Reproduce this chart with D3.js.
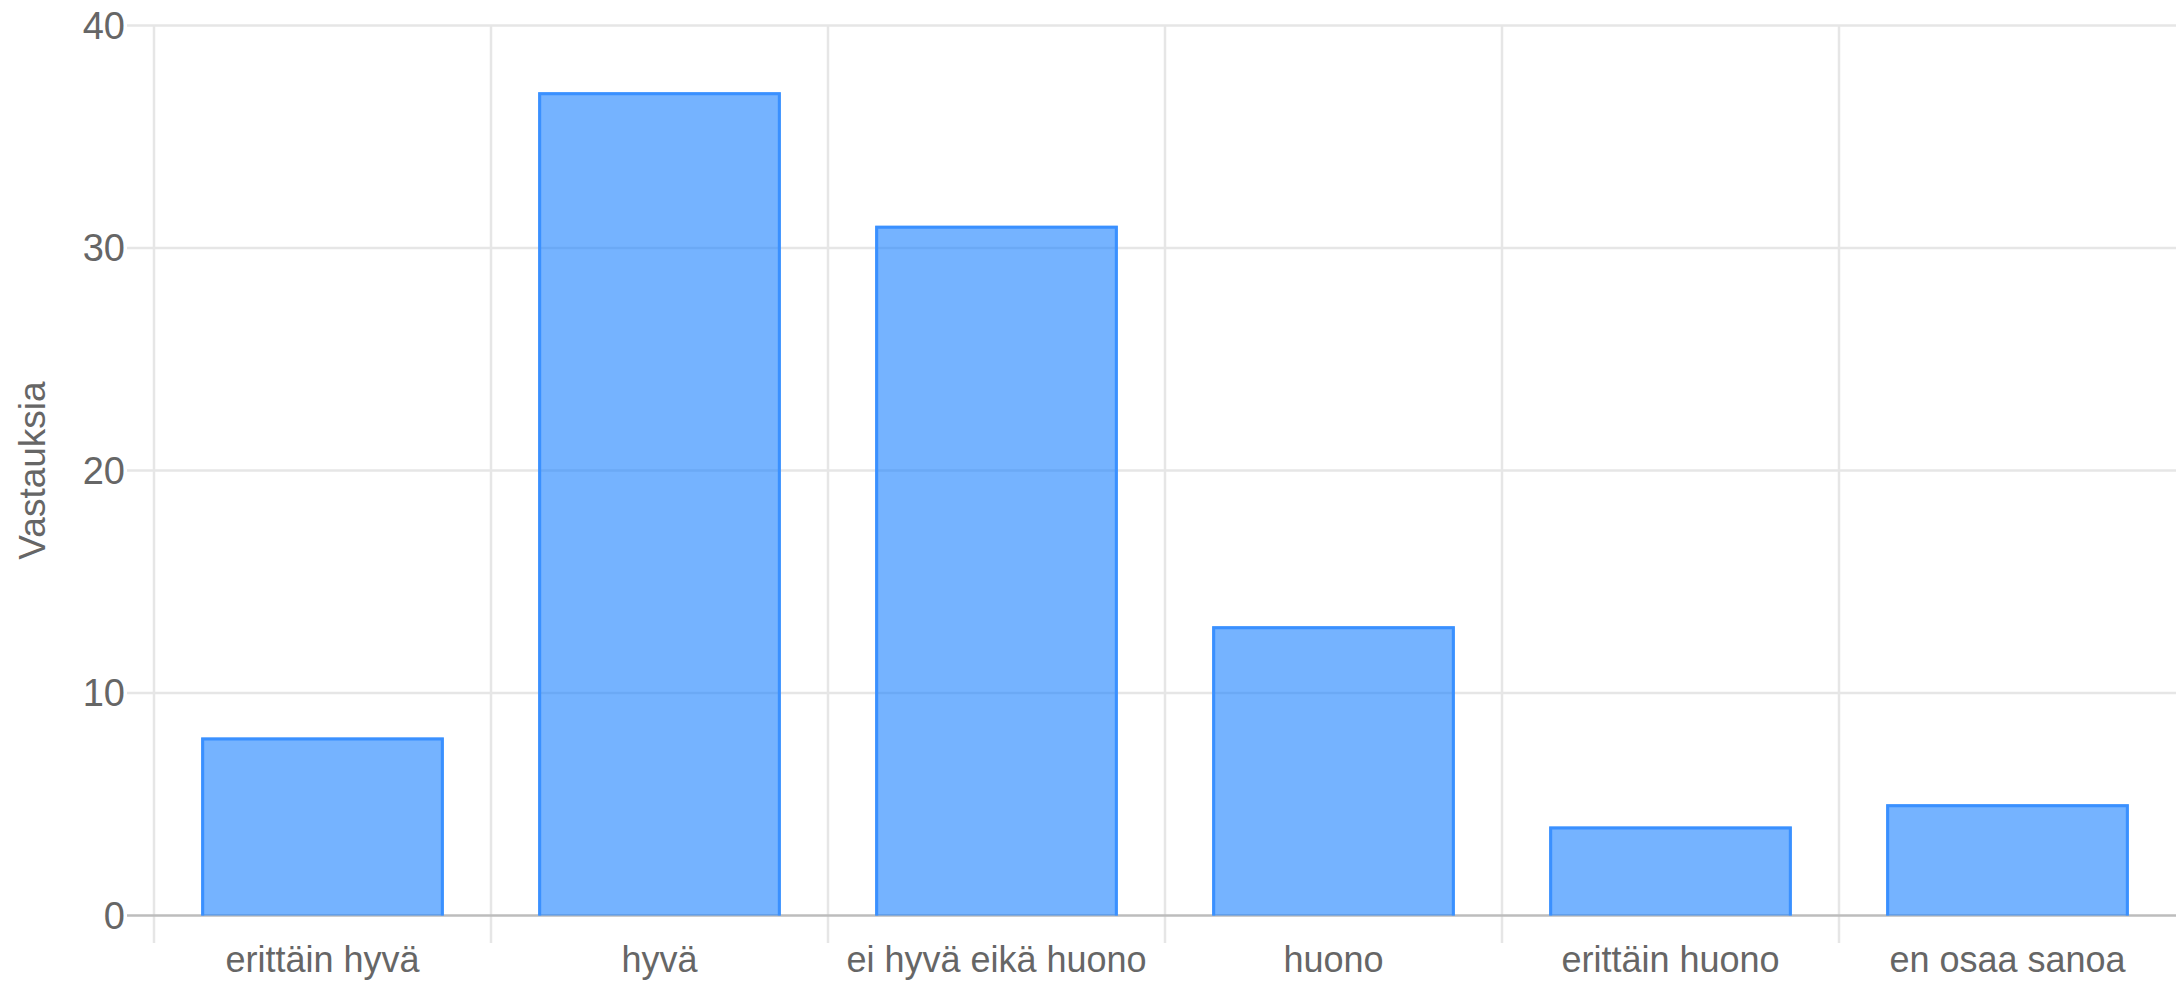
<!DOCTYPE html>
<html>
<head>
<meta charset="utf-8">
<script src="https://cdn.jsdelivr.net/npm/d3@7"></script>
<style>
  html, body { margin: 0; padding: 0; background: #fff; }
  svg { display: block; }
  text { font-family: "Liberation Sans", Arial, Helvetica, sans-serif; fill: #666; }
</style>
</head>
<body>
<svg id="chart" width="2177" height="982"></svg>
<script>
const categories = ["erittäin hyvä", "hyvä", "ei hyvä eikä huono", "huono", "erittäin huono", "en osaa sanoa"];
const values = [8, 37, 31, 13, 4, 5];
const yTicks = [0, 10, 20, 30, 40];
const yTitle = "Vastauksia";

(function () {
const plotLeft = 154, plotRight = 2176, plotTop = 25.5, plotBottom = 915.5;

const svg = d3.select("#chart");

const x = d3.scaleBand()
  .domain(categories)
  .range([plotLeft, plotRight])
  .paddingInner(0.28)
  .paddingOuter(0.14);

const y = d3.scaleLinear().domain([0, 40]).range([plotBottom, plotTop]);

const step = x.step();
const boundaries = d3.range(categories.length).map(i => plotLeft + i * step);

const gGrid = svg.append("g");
gGrid.selectAll("line.h")
  .data(yTicks.filter(t => t !== 0))
  .join("line")
  .attr("class", "h")
  .attr("x1", 127).attr("x2", plotRight)
  .attr("y1", d => y(d)).attr("y2", d => y(d))
  .attr("stroke", "#e6e6e6").attr("stroke-width", 2.5);

gGrid.selectAll("line.v")
  .data(boundaries)
  .join("line")
  .attr("class", "v")
  .attr("x1", d => d).attr("x2", d => d)
  .attr("y1", plotTop).attr("y2", 943)
  .attr("stroke", "#e6e6e6").attr("stroke-width", 2.5);

svg.append("line")
  .attr("x1", 127).attr("x2", plotRight)
  .attr("y1", y(0)).attr("y2", y(0))
  .attr("stroke", "#bdbdbd").attr("stroke-width", 2.5);

svg.append("g").selectAll("text")
  .data(yTicks)
  .join("text")
  .attr("x", 125)
  .attr("y", d => y(d))
  .attr("dy", "0.35em")
  .attr("text-anchor", "end")
  .style("font-size", "38px")
  .text(d => d);

svg.append("text")
  .attr("transform", `translate(45, ${(plotTop + plotBottom) / 2}) rotate(-90)`)
  .attr("text-anchor", "middle")
  .style("font-size", "37px")
  .text(yTitle);

const data = categories.map((c, i) => ({ c, v: values[i] }));
const bw = 3;
const gBars = svg.append("g");
gBars.selectAll("rect")
  .data(data)
  .join("rect")
  .attr("x", d => x(d.c))
  .attr("y", d => y(d.v))
  .attr("width", x.bandwidth())
  .attr("height", d => y(0) - y(d.v))
  .attr("fill", "rgba(25,128,255,0.6)");

gBars.selectAll("path")
  .data(data)
  .join("path")
  .attr("d", d => {
    const x0 = x(d.c) + bw / 2, x1 = x(d.c) + x.bandwidth() - bw / 2;
    const yt = y(d.v) + bw / 2, yb = y(0);
    return `M${x0},${yb}L${x0},${yt}L${x1},${yt}L${x1},${yb}`;
  })
  .attr("fill", "none")
  .attr("stroke", "#3a90ff")
  .attr("stroke-width", bw);

svg.append("g").selectAll("text")
  .data(categories)
  .join("text")
  .attr("x", d => x(d) + x.bandwidth() / 2)
  .attr("y", 972)
  .attr("text-anchor", "middle")
  .style("font-size", "36px")
  .text(d => d);
})();
</script>
</body>
</html>
